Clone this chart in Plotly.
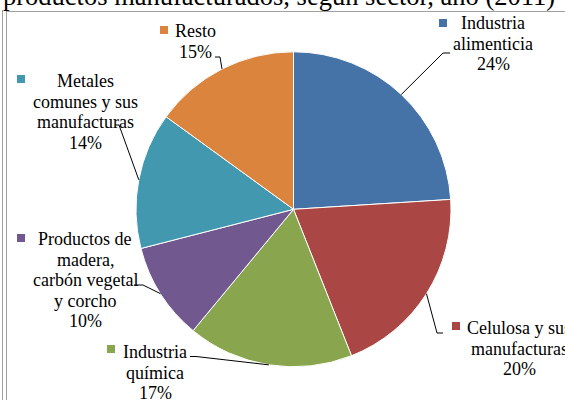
import math
import plotly.graph_objects as go

# ---- data ----
categories = ["Industria alimenticia", "Celulosa y sus manufacturas", "Industria química",
              "Productos de madera, carbón vegetal y corcho",
              "Metales comunes y sus manufacturas", "Resto"]
values = [24, 20, 17, 10, 14, 15]
label_lines = [
    ["Industria", "alimenticia"],
    ["Celulosa y sus", "manufacturas"],
    ["Industria", "química"],
    ["Productos de", "madera,", "carbón vegetal", "y corcho"],
    ["Metales", "comunes y sus", "manufacturas"],
    ["Resto"],
]
colors = ["#4572A7", "#AA4643", "#89A54E", "#71588F", "#4198AF", "#DB843D"]
title_text = "productos manufacturados, según sector, año (2011)"

# ---- layout geometry (pixels) ----
W, H = 565, 400
CX, CY, R = 293.5, 209.3, 157.5
FONT = "Liberation Serif"
LINE = 20.6


def px(x):
    return x / W


def py(y):
    return 1 - y / H


# label placement: centre x, first line y, key square (x0, y0), leader elbow, leader end
label_pos = [
    dict(cx=493, y0=23, key=(439, 19), elbow=(443, 53), end=(450, 53)),
    dict(cx=519, y0=328, key=(452, 322), elbow=(437, 333), end=(443, 333)),
    dict(cx=155, y0=352, key=(107, 345), elbow=(196, 356.5), end=(190, 356.5)),
    dict(cx=85, y0=239, key=(17, 234), elbow=(143, 285), end=(134, 285)),
    dict(cx=85, y0=81, key=(17, 75), elbow=(119, 125), end=(115, 125)),
    dict(cx=195, y0=31, key=(160, 26), elbow=(220, 57), end=(215, 57)),
]

fig = go.Figure(go.Pie(
    labels=categories, values=values, sort=False, direction="clockwise", rotation=0,
    marker=dict(colors=colors, line=dict(color="white", width=1)),
    textinfo="none", hoverinfo="label+percent", showlegend=False,
    domain=dict(x=[px(CX - R), px(CX + R)], y=[py(CY + R), py(CY - R)]),
))

annotations = []
shapes = []
total = sum(values)
cum = 0
for i, v in enumerate(values):
    mid = (cum + v / 2) / total * 2 * math.pi
    cum += v
    sx = CX + R * math.sin(mid)
    sy = CY - R * math.cos(mid)
    pos = label_pos[i]
    pct = f"{round(v / total * 100)}%"
    lines = label_lines[i] + [pct]
    for j, t in enumerate(lines):
        annotations.append(dict(
            text=t, x=px(pos["cx"]), y=py(pos["y0"] + j * LINE), xref="paper", yref="paper",
            xanchor="center", yanchor="middle", showarrow=False,
            font=dict(family=FONT, size=18, color="black")))
    kx, ky = pos["key"]
    shapes.append(dict(type="rect", xref="paper", yref="paper",
                       x0=px(kx), x1=px(kx + 8), y0=py(ky), y1=py(ky + 8),
                       fillcolor=colors[i], line=dict(width=0)))
    ex, ey = pos["elbow"]
    nx, ny = pos["end"]
    shapes.append(dict(type="path", xref="paper", yref="paper",
                       path=f"M {px(sx)} {py(sy)} L {px(ex)} {py(ey)} L {px(nx)} {py(ny)}",
                       line=dict(color="black", width=1)))

# frame lines
gray = "#A0A0A0"
shapes += [
    dict(type="line", xref="paper", yref="paper", x0=px(2.5), x1=px(2.5), y0=py(10), y1=py(400),
         line=dict(color=gray, width=1)),
    dict(type="line", xref="paper", yref="paper", x0=px(6.5), x1=px(6.5), y0=py(11), y1=py(400),
         line=dict(color=gray, width=1)),
    dict(type="line", xref="paper", yref="paper", x0=px(6), x1=px(565), y0=py(11.5), y1=py(11.5),
         line=dict(color=gray, width=1)),
]

annotations.append(dict(
    text=title_text, x=px(1), y=py(-4.5), xref="paper", yref="paper",
    xanchor="left", yanchor="middle", showarrow=False,
    font=dict(family=FONT, size=26.5, color="black")))

fig.update_layout(
    width=W, height=H, margin=dict(l=0, r=0, t=0, b=0),
    paper_bgcolor="white", plot_bgcolor="white",
    annotations=annotations, shapes=shapes,
)
fig.write_html("out.html", config={"displayModeBar": False},
               post_script="document.body.style.margin='0';document.body.style.overflow='hidden';")
